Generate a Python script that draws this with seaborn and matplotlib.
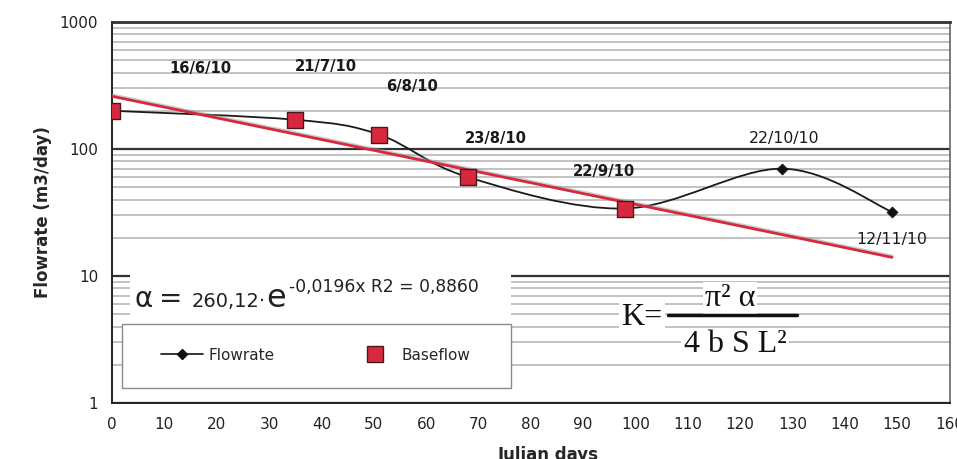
import numpy as np
import matplotlib
matplotlib.use("Agg")
import matplotlib.pyplot as plt
import seaborn as sns
import pandas as pd
from matplotlib.path import Path
from matplotlib.patches import PathPatch, Rectangle
from matplotlib.lines import Line2D
import matplotlib.patheffects as pe

# ---------------- data ----------------
days = [0, 35, 51, 68, 98, 128, 149]
flowrate = [200, 170, 130, 60, 34, 70, 32]
dates = ['16/6/10', '21/7/10', '6/8/10', '23/8/10', '22/9/10', '22/10/10', '12/11/10']
base_days = [0, 35, 51, 68, 98]
baseflow = [200, 170, 130, 60, 34]
fit_a = 260.12
fit_b = -0.0196
r2 = 0.8860
xticks = list(range(0, 161, 10))
yticks = [1, 10, 100, 1000]
ytick_labels = ['1', '10', '100', '1000']

sns.set_style('white')
plt.rcParams['font.family'] = ['DejaVu Sans']

W, H = 957, 459
fig = plt.figure(figsize=(W / 100, H / 100), dpi=100)
ax = fig.add_axes([112 / W, 56 / H, 837.6 / W, 381 / H])

def fx(px):
    return px / W

def fy(py):
    return 1 - py / H

def axx(px):
    return (px - 112) / 837.6

def axy(py):
    return (403 - py) / 381

RED = '#d8283f'
EDGE = '#4a1a1a'

ax.set_yscale('log')
ax.set_xlim(0, 160)
ax.set_ylim(1, 1000)

# grid
ax.set_axisbelow(True)
ax.yaxis.grid(True, which='minor', color='#b8b8b8', lw=1.2)
ax.yaxis.grid(True, which='major', color='#333333', lw=1.6)
ax.xaxis.grid(False)

# smoothed flowrate curve (Catmull-Rom bezier in log space)
pts = np.column_stack([np.array(days, float), np.log10(np.array(flowrate, float))])
verts = [pts[0]]
codes = [Path.MOVETO]
n = len(pts)
for i in range(n - 1):
    p0 = pts[i - 1] if i > 0 else pts[i]
    p1 = pts[i]
    p2 = pts[i + 1]
    p3 = pts[i + 2] if i + 2 < n else pts[i + 1]
    c1 = p1 + (p2 - p0) / 6
    c2 = p2 - (p3 - p1) / 6
    verts += [c1, c2, p2]
    codes += [Path.CURVE4] * 3
verts = np.array(verts)
verts[:, 1] = 10 ** verts[:, 1]
curve = PathPatch(Path(verts, codes), facecolor='none', edgecolor='#1a1a1a', lw=1.3, zorder=3)
ax.add_patch(curve)

# flowrate diamonds
df_flow = pd.DataFrame({'day': days, 'flow': flowrate})
sns.scatterplot(data=df_flow, x='day', y='flow', marker='D', s=32, color='#111111',
                edgecolor='#111111', ax=ax, zorder=4)

# exponential fit line
fit_x = np.array([days[0], days[-1]], float)
df_fit = pd.DataFrame({'day': fit_x, 'fit': fit_a * np.exp(fit_b * fit_x)})
sns.lineplot(data=df_fit, x='day', y='fit', color=RED, lw=2.0, ax=ax, zorder=5,
             path_effects=[pe.SimpleLineShadow(offset=(0.3, 1.0), shadow_color='#999999', alpha=0.5),
                           pe.Normal()])

# baseflow squares
df_base = pd.DataFrame({'day': base_days, 'base': baseflow})
sns.scatterplot(data=df_base, x='day', y='base', marker='s', s=125, color=RED,
                edgecolor=EDGE, linewidth=1.0, ax=ax, zorder=6)

# axes styling
ax.set_xticks(xticks)
ax.set_xticks(list(range(5, 160, 10)), minor=True)
ax.set_yticks(yticks)
ax.set_yticklabels(ytick_labels)
ax.yaxis.set_minor_locator(matplotlib.ticker.LogLocator(base=10, subs=np.arange(2, 10)))
ax.yaxis.set_minor_formatter(matplotlib.ticker.NullFormatter())
ax.tick_params(axis='x', which='major', direction='in', length=5, width=1, labelsize=11, pad=10, colors='#222222')
ax.tick_params(axis='x', which='minor', direction='in', length=3, width=1, colors='#222222')
ax.tick_params(axis='y', which='major', direction='out', length=7, width=1, labelsize=11, pad=3, colors='#222222')
ax.tick_params(axis='y', which='minor', direction='out', length=4, width=1, colors='#555555')

for s in ['left', 'bottom']:
    ax.spines[s].set_color('#222222')
    ax.spines[s].set_linewidth(1.4)
ax.spines['top'].set_color('#333333')
ax.spines['top'].set_linewidth(2.0)
ax.spines['right'].set_color('#666666')
ax.spines['right'].set_linewidth(1.2)

ax.set_xlabel('Julian days', fontsize=12, fontweight='bold')
ax.xaxis.set_label_coords(axx(548), axy(446))
ax.set_ylabel('Flowrate (m3/day)', fontsize=12, fontweight='bold')
ax.yaxis.set_label_coords(axx(52), 0.5)

# date labels
label_pos = [(16.8, 434), (40.9, 443), (57.3, 308), (73.4, 120), (94, 67), (128.4, 122), (149, 19.5)]
bold = [True, True, True, True, True, False, False]
for (x, y), t, b in zip(label_pos, dates, bold):
    ax.text(x, y, t, ha='center', va='center', fontsize=10.6 if b else 11.3,
            fontweight='bold' if b else 'normal', color='#1a1a1a', zorder=7)

# white areas for equation & legend box
ax.add_patch(Rectangle((axx(130), axy(324)), axx(511) - axx(130), axy(268) - axy(324),
                       transform=ax.transAxes, facecolor='white', edgecolor='none', zorder=1.5))
ax.add_patch(Rectangle((axx(122), axy(388)), axx(511) - axx(122), axy(324) - axy(388),
                       transform=ax.transAxes, facecolor='white', edgecolor='#8a8a8a', lw=1.0, zorder=1.6))

# legend
h_flow = Line2D([], [], color='#111111', lw=1.2, marker='D', markersize=5.5)
h_base = Line2D([], [], ls='none', marker='s', markersize=11, markerfacecolor=RED, markeredgecolor=EDGE)
ax.legend([h_flow, h_base], ['Flowrate', 'Baseflow'], loc='center left',
          bbox_to_anchor=(axx(161), axy(355)), ncol=2, frameon=False, fontsize=11,
          handlelength=2.75, handletextpad=0.35, columnspacing=5.2, borderpad=0, borderaxespad=0)

# fit equation
eq_color = '#222222'
fig.text(fx(134), fy(307), 'α', fontsize=20, color=eq_color, va='baseline', ha='left')
fig.text(fx(159), fy(307), '=', fontsize=20, color=eq_color, va='baseline', ha='left')
fig.text(fx(192), fy(307), f'{fit_a:.2f}'.replace('.', ',') + '·', fontsize=14, color=eq_color,
         va='baseline', ha='left')
fig.text(fx(266), fy(307), 'e', fontsize=23, color=eq_color, va='baseline', ha='left')
fig.text(fx(289), fy(292), f'{fit_b:.4f}'.replace('.', ',') + 'x R2 = ' + f'{r2:.4f}'.replace('.', ','),
         fontsize=12.3, color=eq_color, va='baseline', ha='left')

# K formula
serif = ['Liberation Serif', 'DejaVu Serif']
wb = dict(facecolor='white', edgecolor='none', pad=1.5)
fig.text(fx(642), fy(325), 'K=', fontsize=23, family=serif, color='#111111', ha='center',
         va='baseline', bbox=wb, zorder=8)
fig.text(fx(730), fy(306), 'π² α', fontsize=23, family=serif, color='#111111', ha='center',
         va='baseline', bbox=wb, zorder=8)
fig.text(fx(735), fy(352), '4 b S L²', fontsize=23, family=serif, color='#111111', ha='center',
         va='baseline', bbox=wb, zorder=8)
fig.add_artist(Line2D([fx(668), fx(797)], [fy(315), fy(315)], color='#111111', lw=2.5, zorder=9))

fig.savefig('out.png', dpi=100)
